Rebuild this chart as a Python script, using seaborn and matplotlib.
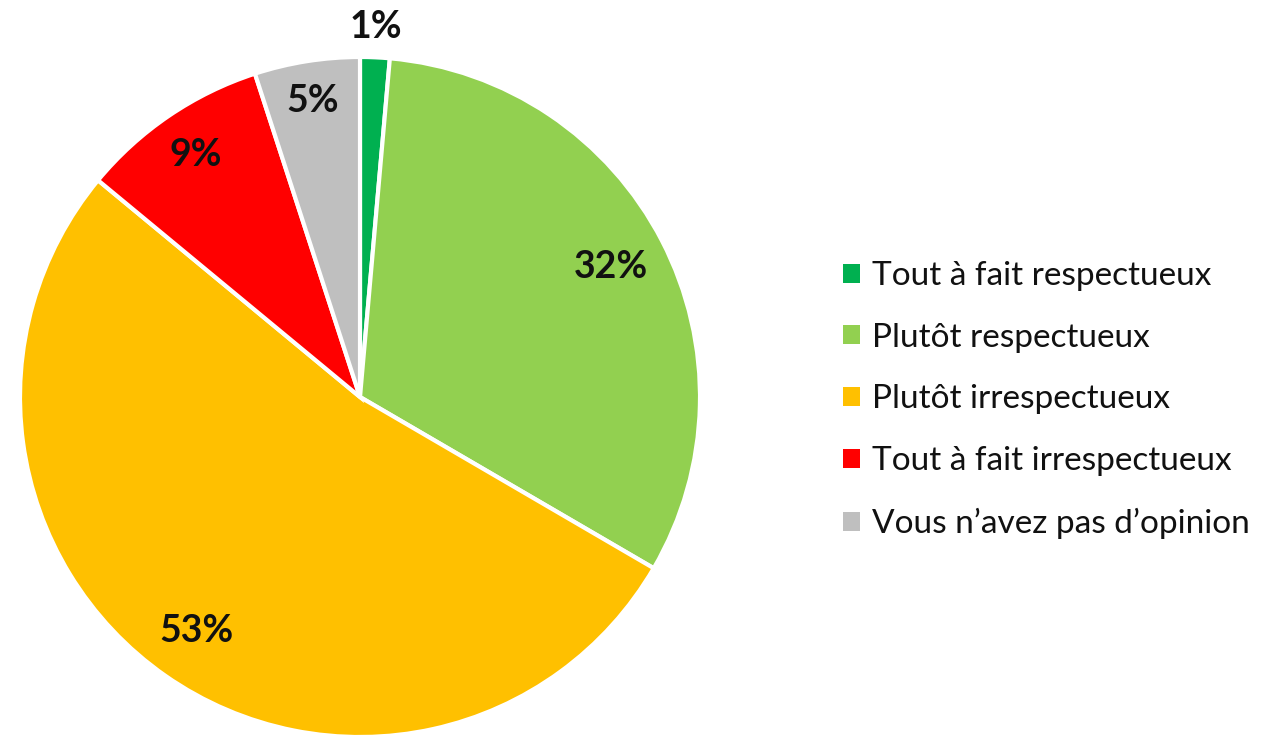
import matplotlib
matplotlib.use("Agg")
import matplotlib.pyplot as plt
from matplotlib.patches import Patch
import numpy as np
import seaborn as sns

categories = ['Tout à fait respectueux', 'Plutôt respectueux', 'Plutôt irrespectueux',
              'Tout à fait irrespectueux', "Vous n’avez pas d’opinion"]
values = [1.4, 32.0, 52.6, 9.0, 5.0]
labels = ['1%', '32%', '53%', '9%', '5%']
colors = ['#00B050', '#92D050', '#FFC000', '#FF0000', '#BFBFBF']
label_dist = [1.09, 0.83, 0.84, 0.86, 0.88]

sns.set_style("white")
plt.rcParams['font.family'] = ['Lato', 'DejaVu Sans']

fig = plt.figure(figsize=(12.63, 7.37), dpi=100)
ax = fig.add_axes([20 / 1263, 0.0, 680 / 1263, 680 / 737])

wedges, _ = ax.pie(values, colors=colors, startangle=90, counterclock=False,
                   wedgeprops=dict(edgecolor='white', linewidth=3))
ax.set_xlim(-1, 1)
ax.set_ylim(-1, 1)
ax.set_aspect('equal')

# labels placed along the middle angle of each wedge
for w, lab, d in zip(wedges, labels, label_dist):
    ang = np.deg2rad((w.theta1 + w.theta2) / 2)
    ax.text(d * np.cos(ang), d * np.sin(ang), lab, ha='center', va='center',
            fontsize=27, fontweight='bold', color='#111111', clip_on=False)

handles = [Patch(facecolor=c, edgecolor='none') for c in colors]
fig.legend(handles, categories, loc='center left', bbox_to_anchor=(843 / 1263, 1 - 400 / 737),
           frameon=False, fontsize=24, handlelength=0.5, handleheight=0.5, borderpad=0,
           borderaxespad=0, handletextpad=0.36, labelspacing=0.95, labelcolor='#111111')

fig.savefig('out.png', dpi=100)
